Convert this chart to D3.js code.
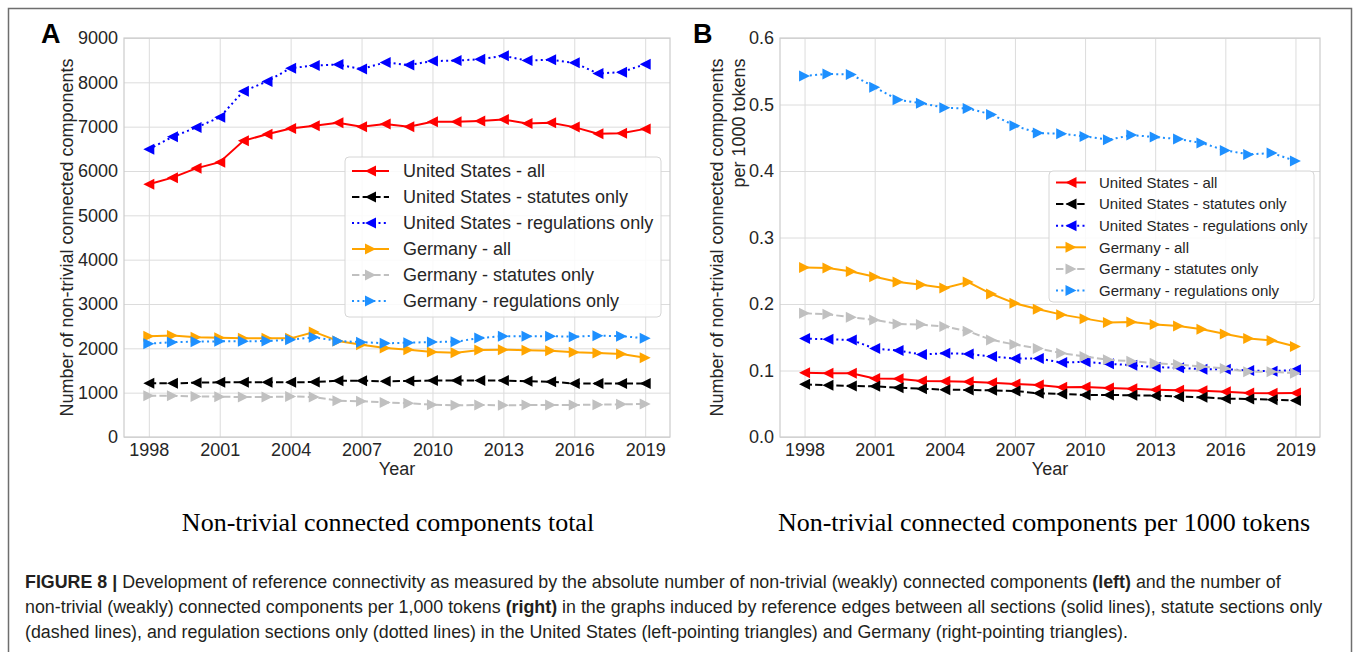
<!DOCTYPE html>
<html><head><meta charset="utf-8">
<script src="https://cdn.jsdelivr.net/npm/d3@7/dist/d3.min.js"></script>
<style>body{margin:0;background:#fff}svg{display:block}</style>
</head><body>
<svg id="c" width="1354" height="652"></svg>
<script>
// ---------- data ----------
const years = [1998,1999,2000,2001,2002,2003,2004,2005,2006,2007,2008,2009,2010,2011,2012,2013,2014,2015,2016,2017,2018,2019];
const xTickYears = [1998,2001,2004,2007,2010,2013,2016,2019];
const yTicksTotal = [0,1000,2000,3000,4000,5000,6000,7000,8000,9000];
const yTicksPer = [0,0.1,0.2,0.3,0.4,0.5,0.6];
const seriesLabels = ["United States - all","United States - statutes only","United States - regulations only","Germany - all","Germany - statutes only","Germany - regulations only"];

const usAllTotal  = [5700,5850,6060,6200,6680,6830,6960,7020,7090,7000,7060,7000,7110,7110,7130,7160,7070,7090,6990,6840,6850,6950];
const usStatTotal = [1210,1210,1225,1233,1233,1233,1233,1240,1270,1270,1256,1263,1275,1275,1275,1275,1256,1248,1205,1205,1205,1205];
const usRegTotal  = [6490,6770,6980,7210,7800,8020,8320,8380,8400,8300,8450,8390,8480,8490,8520,8600,8490,8510,8440,8200,8230,8410];
const deAllTotal  = [2270,2290,2250,2240,2225,2225,2225,2370,2165,2080,2010,1970,1915,1900,1960,1970,1955,1945,1910,1895,1870,1790];
const deStatTotal = [930,930,915,910,900,900,915,900,820,805,780,760,730,715,722,715,722,722,722,730,737,745];
const deRegTotal  = [2105,2140,2150,2158,2158,2165,2195,2250,2165,2140,2113,2128,2143,2150,2233,2275,2275,2275,2263,2285,2275,2226];

const usAllPer  = [0.0967,0.0957,0.0957,0.088,0.0877,0.0842,0.0837,0.0832,0.0817,0.0797,0.0782,0.0747,0.0752,0.0737,0.0727,0.0712,0.0702,0.0697,0.0682,0.0662,0.0657,0.0662];
const usStatPer = [0.0792,0.0777,0.0767,0.0762,0.0742,0.0727,0.0712,0.0707,0.0702,0.0692,0.0657,0.0647,0.0632,0.0632,0.0627,0.0622,0.0607,0.0597,0.0577,0.0572,0.0562,0.0547];
const usRegPer  = [0.148,0.147,0.146,0.133,0.130,0.124,0.126,0.125,0.121,0.118,0.118,0.112,0.113,0.110,0.108,0.105,0.104,0.102,0.102,0.100,0.099,0.101];
const deAllPer  = [0.255,0.254,0.249,0.241,0.233,0.229,0.224,0.233,0.215,0.201,0.192,0.184,0.178,0.172,0.173,0.169,0.167,0.162,0.155,0.148,0.145,0.136];
const deStatPer = [0.186,0.1845,0.180,0.176,0.170,0.169,0.166,0.159,0.146,0.139,0.133,0.126,0.121,0.116,0.114,0.111,0.109,0.106,0.103,0.098,0.098,0.096];
const deRegPer  = [0.543,0.546,0.545,0.526,0.507,0.502,0.495,0.494,0.485,0.468,0.457,0.456,0.452,0.447,0.454,0.451,0.448,0.442,0.431,0.425,0.427,0.415];

// ---------- styles ----------
const styles = [
  {color:"#ff0000", dash:null,  dir:"left"},
  {color:"#000000", dash:"7.4,3.2", dir:"left"},
  {color:"#0000ff", dash:"2,3.3", dir:"left"},
  {color:"#ffa500", dash:null,  dir:"right"},
  {color:"#c0c0c0", dash:"7.4,3.2", dir:"right"},
  {color:"#1e90ff", dash:"2,3.3", dir:"right"}
];
const SANS = "'Liberation Sans', Arial, Helvetica, sans-serif";
const SERIF = "'Liberation Serif', 'Times New Roman', serif";
const TXT = "#262626";
const FS = "18px";

const svg = d3.select("#c");

// outer frame
svg.append("rect").attr("x",8.5).attr("y",8.5).attr("width",1343).attr("height",700)
  .attr("fill","none").attr("stroke","#6e6e6e").attr("stroke-width",1.5);

function tri(dir, s){
  const h = s/2;
  return dir==="left" ? `M${-h},0L${h},${-h}L${h},${h}Z` : `M${h},0L${-h},${-h}L${-h},${h}Z`;
}

function panel(cfg){
  const g = svg.append("g");
  const x = d3.scaleLinear().domain([1996.95, 2020.05]).range([cfg.x0, cfg.x1]);
  const y = d3.scaleLinear().domain(cfg.yDomain).range([cfg.y1, cfg.y0]);

  const xa = d3.axisBottom(x).tickValues(xTickYears).tickFormat(d3.format("d")).tickSize(-(cfg.y1-cfg.y0)).tickPadding(6);
  const ya = d3.axisLeft(y).tickValues(cfg.yTicks).tickFormat(cfg.fmt).tickSize(-(cfg.x1-cfg.x0)).tickPadding(6);
  const gx = g.append("g").attr("transform",`translate(0,${cfg.y1})`).call(xa);
  const gy = g.append("g").attr("transform",`translate(${cfg.x0},0)`).call(ya);
  [gx,gy].forEach(a=>{
    a.select(".domain").remove();
    a.selectAll(".tick line").attr("stroke","#dcdcdc").attr("stroke-width",1);
    a.selectAll(".tick text").attr("fill",TXT).style("font-family",SANS).style("font-size",FS);
  });
  gx.selectAll(".tick text").attr("dy","0.71em");
  g.append("rect").attr("x",cfg.x0).attr("y",cfg.y0).attr("width",cfg.x1-cfg.x0).attr("height",cfg.y1-cfg.y0)
    .attr("fill","none").attr("stroke","#cccccc").attr("stroke-width",1.2);

  cfg.series.forEach((vals,i)=>{
    const st = styles[i];
    const line = d3.line().x((d,j)=>x(years[j])).y(d=>y(d));
    g.append("path").datum(vals).attr("d",line).attr("fill","none")
      .attr("stroke",st.color).attr("stroke-width",2)
      .attr("stroke-dasharray",st.dash);
    g.selectAll(null).data(vals).enter().append("path")
      .attr("d",tri(st.dir,11)).attr("fill",st.color)
      .attr("transform",(d,j)=>`translate(${x(years[j])},${y(d)})`);
  });

  const L = cfg.legend;
  g.append("rect").attr("x",L.x).attr("y",L.y).attr("width",L.w).attr("height",L.h).attr("rx",4)
    .attr("fill","rgba(255,255,255,0.85)").attr("stroke","#d6d6d6").attr("stroke-width",1);
  seriesLabels.forEach((lab,i)=>{
    const st = styles[i];
    const yy = L.row0 + i*L.step;
    g.append("line").attr("x1",L.lx0).attr("x2",L.lx1).attr("y1",yy).attr("y2",yy)
      .attr("stroke",st.color).attr("stroke-width",2).attr("stroke-dasharray",st.dash);
    g.append("path").attr("d",tri(st.dir,11)).attr("fill",st.color)
      .attr("transform",`translate(${(L.lx0+L.lx1)/2},${yy})`);
    g.append("text").attr("x",L.tx).attr("y",yy).attr("dy","0.35em").text(lab)
      .attr("fill",TXT).style("font-family",SANS).style("font-size",L.fs+"px");
  });

  g.append("text").attr("x",(cfg.x0+cfg.x1)/2).attr("y",475).attr("text-anchor","middle").text("Year")
    .attr("fill",TXT).style("font-family",SANS).style("font-size",FS);
  cfg.ylab.forEach((t,k)=>{
    g.append("text").attr("class","ylab"+k).attr("transform",`translate(${cfg.ylabX[k]},${cfg.ylabY}) rotate(-90)`)
      .attr("text-anchor",cfg.ylabAnchor[k]).attr("dy","0.35em").text(t)
      .attr("fill",TXT).style("font-family",SANS).style("font-size",FS);
  });
  g.append("text").attr("x",cfg.letterX).attr("y",43).text(cfg.letter)
    .attr("fill","#000").style("font-family",SANS).style("font-weight","bold").style("font-size","27px");
  g.append("text").attr("x",cfg.subX).attr("y",531).attr("text-anchor","middle").text(cfg.sub)
    .attr("fill","#000").style("font-family",SERIF).style("font-size","26px");
  return g;
}

panel({
  x0:124, x1:670, y0:38, y1:437, yDomain:[0,9000], yTicks:yTicksTotal, fmt:d3.format("d"),
  series:[usAllTotal,usStatTotal,usRegTotal,deAllTotal,deStatTotal,deRegTotal],
  legend:{x:345,y:157,w:316,h:160,row0:171,step:26,lx0:352,lx1:389,tx:403,fs:18},
  ylab:["Number of non-trivial connected components"], ylabX:[67], ylabY:237.5, ylabAnchor:["middle"],
  letter:"A", letterX:41, sub:"Non-trivial connected components total", subX:388
});
const gB = panel({
  x0:780, x1:1320, y0:38, y1:437, yDomain:[0,0.6], yTicks:yTicksPer, fmt:d3.format(".1f"),
  series:[usAllPer,usStatPer,usRegPer,deAllPer,deStatPer,deRegPer],
  legend:{x:1049,y:171,w:265,h:131,row0:182.5,step:21.6,lx0:1056,lx1:1086,tx:1099,fs:15},
  ylab:["Number of non-trivial connected components","per 1000 tokens"], ylabX:[717,739], ylabY:237.5, ylabAnchor:["middle","end"],
  letter:"B", letterX:693, sub:"Non-trivial connected components per 1000 tokens", subX:1044
});
// align second ylabel line's end with the top end of the first line
(function(){
  const w = gB.select(".ylab0").node().getComputedTextLength();
  gB.select(".ylab1").attr("transform",`translate(739,${237.5 - w/2}) rotate(-90)`);
})();

// caption
const capLines = [
  [["FIGURE 8 | ",true],["Development of reference connectivity as measured by the absolute number of non-trivial (weakly) connected components ",false],["(left)",true],[" and the number of",false]],
  [["non-trivial (weakly) connected components per 1,000 tokens ",false],["(right)",true],[" in the graphs induced by reference edges between all sections (solid lines), statute sections only",false]],
  [["(dashed lines), and regulation sections only (dotted lines) in the United States (left-pointing triangles) and Germany (right-pointing triangles).",false]]
];
const capY = [588,612.5,637.5];
const capTexts = capLines.map((parts,i)=>{
  const t = svg.append("text").attr("x",25).attr("y",capY[i]).attr("fill","#231f20")
    .style("font-family",SANS).style("font-size","16px");
  parts.forEach(p=>t.append("tspan").text(p[0]).style("font-weight",p[1]?"bold":"normal"));
  return t;
});
const w2 = capTexts[1].node().getComputedTextLength();
const fs = 16*1298/w2;
capTexts.forEach(t=>t.style("font-size",fs+"px"));
</script>
</body></html>
